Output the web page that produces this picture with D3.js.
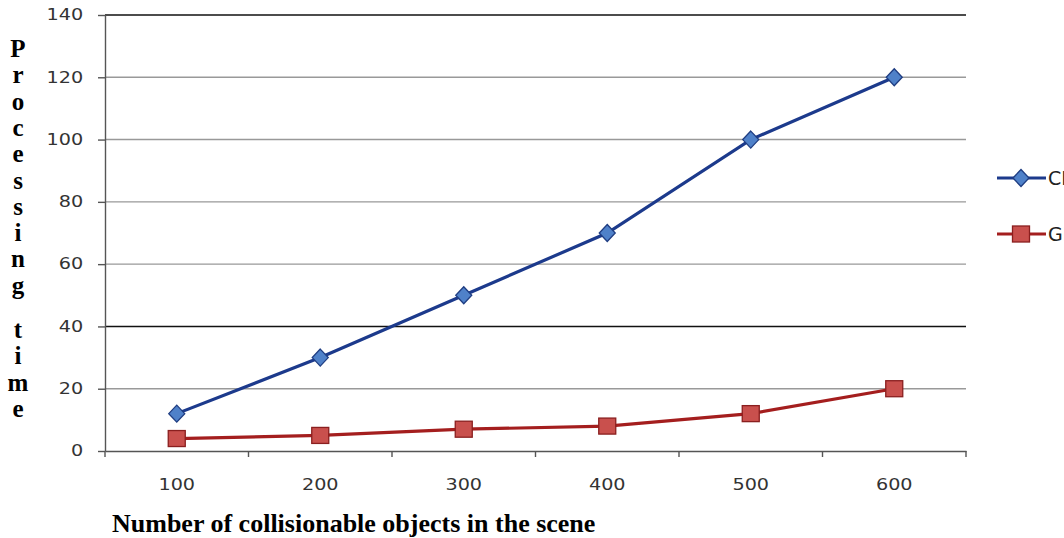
<!DOCTYPE html>
<html><head><meta charset="utf-8">
<script src="https://d3js.org/d3.v7.min.js"></script>
<style>body{margin:0;background:#fff;overflow:hidden}svg{display:block}</style>
</head><body><svg id="c" width="1064" height="538"></svg>
<script>
const categories = ["100","200","300","400","500","600"];
const cpuValues = [12, 30, 50, 70, 100, 120];
const gpuValues = [4, 5, 7, 8, 12, 20];
const yTicks = [0, 20, 40, 60, 80, 100, 120, 140];
const seriesNames = ["CPU", "GPU"];
const yTitle = "Processing time";
const xTitle = "Number of collisionable objects in the scene";

const svg = d3.select("#c");
const L = 105, R = 966, T = 15, B = 451;
const x = d3.scaleBand().domain(categories).range([L, R]);
const y = d3.scaleLinear().domain([0, 140]).range([B, T]);

// gridlines
svg.append("g").selectAll("line").data(yTicks.filter(d => d > 0)).join("line")
  .attr("x1", L).attr("x2", R).attr("y1", d => y(d)).attr("y2", d => y(d))
  .attr("stroke", d => (d === 140 || d === 40) ? "#111" : "#999")
  .attr("stroke-width", d => (d === 140 || d === 40) ? 1.6 : 1.4);

// y axis
const ya = svg.append("g").attr("transform", `translate(${L},0)`)
  .call(d3.axisLeft(y).tickValues(yTicks).tickSize(7).tickPadding(0).tickSizeOuter(0));
ya.select(".domain").attr("stroke", "#555").attr("stroke-width", 1.4);
ya.selectAll(".tick line").attr("stroke", "#555").attr("stroke-width", 1.4);
ya.selectAll(".tick text").attr("x", -17).attr("transform", "scale(1.28,1)")
  .attr("font-family", "DejaVu Sans").attr("font-size", 15).attr("fill", "#333");

// x axis
const xa = svg.append("g").attr("transform", `translate(0,${B})`)
  .call(d3.axisBottom(x).tickSize(0).tickPadding(0).tickSizeOuter(0));
xa.select(".domain").attr("stroke", "#555").attr("stroke-width", 1.4);
xa.selectAll(".tick text").attr("y", 39).attr("dy", 0).attr("transform", "scale(1.28,1)")
  .attr("x", 0)
  .attr("font-family", "DejaVu Sans").attr("font-size", 15).attr("fill", "#333");
// boundary ticks
const bounds = categories.map(c => x(c)).concat([R]);
svg.append("g").selectAll("line").data(bounds).join("line")
  .attr("x1", d => d).attr("x2", d => d).attr("y1", B).attr("y2", B + 6)
  .attr("stroke", "#555").attr("stroke-width", 1.4);

const px = d => x(d) + x.bandwidth()/2;
const line = d3.line().x((d, i) => px(categories[i])).y(d => y(d));

const series = [
  {name: seriesNames[0], values: cpuValues, line: "#1c3a8c", fill: "#4f81c9", stroke: "#1f3d82", shape: "diamond"},
  {name: seriesNames[1], values: gpuValues, line: "#a41e1e", fill: "#c9504d", stroke: "#8a1f1f", shape: "square"}
];

function marker(g, shape, cx, cy, s) {
  if (shape === "diamond") {
    g.append("path").attr("d", `M${cx},${cy-8.5}L${cx+8},${cy}L${cx},${cy+8.5}L${cx-8},${cy}Z`)
      .attr("fill", s.fill).attr("stroke", s.stroke).attr("stroke-width", 1.3);
  } else {
    g.append("rect").attr("x", cx-8.5).attr("y", cy-8).attr("width", 17).attr("height", 16)
      .attr("fill", s.fill).attr("stroke", s.stroke).attr("stroke-width", 1.3);
  }
}

series.forEach(s => {
  svg.append("path").datum(s.values).attr("d", line)
    .attr("fill", "none").attr("stroke", s.line).attr("stroke-width", 3.2);
  const g = svg.append("g");
  s.values.forEach((v, i) => marker(g, s.shape, px(categories[i]), y(v), s));
});

// legend
const legY = [178, 234];
series.forEach((s, i) => {
  const g = svg.append("g");
  g.append("line").attr("x1", 997).attr("x2", 1046).attr("y1", legY[i]).attr("y2", legY[i])
    .attr("stroke", s.line).attr("stroke-width", 3.2);
  marker(g, s.shape, 1021, legY[i], s);
  g.append("text").attr("x", 1048).attr("y", legY[i] + 7).text(s.name)
    .attr("font-family", "DejaVu Sans").attr("font-size", 19).attr("fill", "#222");
});

// y title: stacked letters
const yt = svg.append("g");
let cy = 57;
yTitle.split("").forEach(ch => {
  if (ch === " ") { cy += 18; return; }
  yt.append("text").attr("x", 18).attr("y", cy).attr("text-anchor", "middle")
    .attr("font-family", "Liberation Serif").attr("font-weight", "bold").attr("font-size", 25)
    .attr("fill", "#000").text(ch);
  cy += 26.3;
});

svg.append("text").attr("x", 112).attr("y", 532).text(xTitle)
  .attr("font-family", "Liberation Serif").attr("font-weight", "bold").attr("font-size", 26)
  .attr("fill", "#000");
</script></body></html>
